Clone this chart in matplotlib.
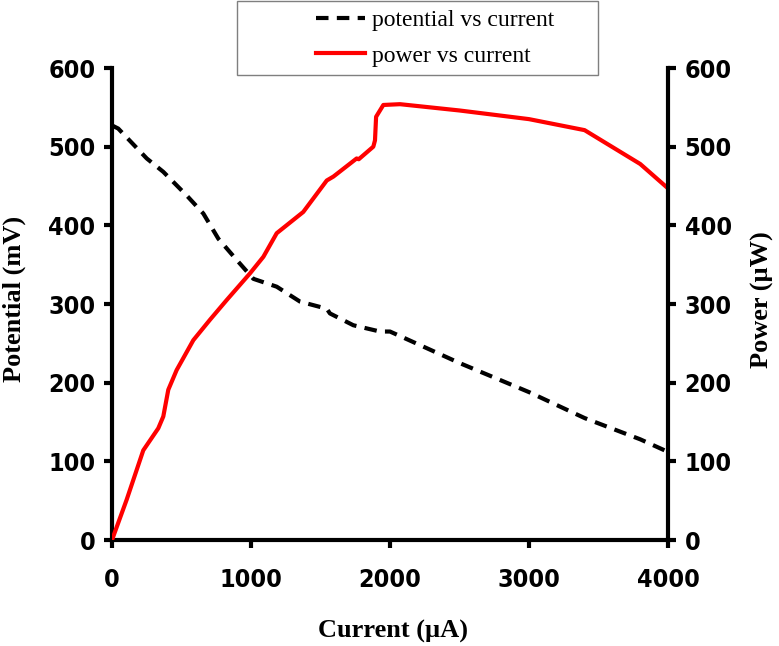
import matplotlib
matplotlib.use('Agg')
import matplotlib.pyplot as plt
from matplotlib.patches import Rectangle

# данные
current_v = [0, 45, 250, 369, 537, 657, 765, 897, 1017, 1185, 1353, 1545, 1568,
             1736, 1928, 2000, 2500, 3000, 3400, 3800, 4000]
potential = [527, 523, 485, 468, 438, 415, 383, 356, 332, 322, 303, 294, 288,
             273, 265, 265, 225, 188, 155, 128, 112]

current_p = [0, 105, 225, 333, 369, 405, 465, 585, 705, 825, 993, 1089, 1185,
             1376, 1545, 1593, 1760, 1775, 1880, 1892, 1900, 1952, 2072, 2500,
             3000, 3400, 3800, 4000]
power = [0, 51, 114, 142, 157, 191, 216, 254, 280, 305, 339, 360, 390,
         417, 457, 462, 485, 484, 500, 508, 538, 553, 554, 546,
         535, 521, 478, 447]

x_ticks = [0, 1000, 2000, 3000, 4000]
y_ticks = [0, 100, 200, 300, 400, 500, 600]

LABEL_FONT = ['Liberation Serif', 'DejaVu Serif']

fig = plt.figure(figsize=(7.79, 6.46), dpi=100)
ax = fig.add_axes([112 / 779, 1 - 540 / 646, 556 / 779, 472 / 646])
ax2 = ax.twinx()

l1, = ax.plot(current_v, potential, color='black', lw=3, linestyle=(0, (3, 2)),
              label='potential vs current')
l2, = ax2.plot(current_p, power, color='red', lw=3, label='power vs current')

ax.set_xlim(0, 4000)
ax.set_ylim(0, 600)
ax2.set_ylim(0, 600)
ax.set_xticks(x_ticks)
ax.set_yticks(y_ticks)
ax2.set_yticks(y_ticks)

for a in (ax, ax2):
    a.spines['top'].set_visible(False)
    for s in ('left', 'right', 'bottom'):
        a.spines[s].set_linewidth(3)
    a.tick_params(width=3, length=6, direction='out', labelsize=18, pad=6)
    for lab in a.get_xticklabels() + a.get_yticklabels():
        lab.set_family('DejaVu Sans')
        lab.set_stretch('condensed')
        lab.set_fontweight('bold')
ax.tick_params(axis='x', pad=14)

ax.spines['right'].set_visible(False)
ax2.spines['left'].set_visible(False)
ax2.spines['bottom'].set_visible(False)

ax.set_xlabel('Current (µA)', fontsize=19, fontweight='bold', family=LABEL_FONT)
ax.set_ylabel('Potential (mV)', fontsize=19, fontweight='bold', family=LABEL_FONT)
ax2.set_ylabel('Power (µW)', fontsize=19, fontweight='bold', family=LABEL_FONT,
               rotation=90)
ax.xaxis.set_label_coords(0.5045, -0.17)
ax.yaxis.set_label_coords(-0.155, 0.51)
ax2.yaxis.set_label_coords(1.15, 0.51)

# рамка легенды
fig.patches.append(Rectangle((237 / 779, 1 - 75 / 646), 361 / 779, 74 / 646,
                             transform=fig.transFigure, fill=False,
                             edgecolor='#7f7f7f', lw=1))
fig.legend([l1, l2], ['potential vs current', 'power vs current'],
           loc='center', bbox_to_anchor=(435 / 779, 1 - 38 / 646),
           frameon=False, prop={'family': LABEL_FONT, 'size': 17},
           handlelength=2.1, handletextpad=0.3, labelspacing=0.6)

fig.savefig('out.png', dpi=100)
